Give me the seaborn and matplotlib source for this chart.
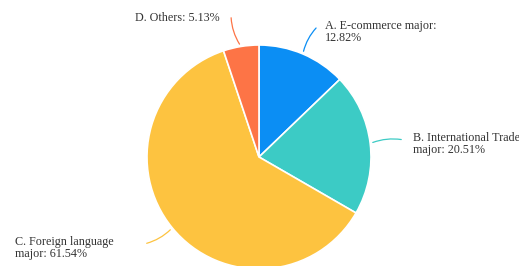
import numpy as np
import matplotlib.pyplot as plt
import seaborn as sns

sns.set_theme(style="white")
plt.rcParams['font.family'] = ['Liberation Serif', 'DejaVu Serif']

# data (labels already carry their line breaks)
categories = ['A. E-commerce major:\n', 'B. International Trade\nmajor: ',
              'C. Foreign language\nmajor: ', 'D. Others: ']
shares = [12.82, 20.51, 61.54, 5.13]
colors = ['#0b8ef4', '#3ccbc5', '#fdc340', '#fd7446']

# label anchor positions (pixel coords, y up), top-left of text
label_xy = [(325, 246), (413, 134), (15, 30), (135, 254)]
# leader line elbow points
elbows = [(318, 240), (404, 126), (144, 22), (231, 251)]

fig = plt.figure(figsize=(5.19, 2.66), dpi=100)
ax = fig.add_axes([0, 0, 1, 1])

cx, cy, r = 259, 109, 112
wedges, _ = ax.pie(shares, colors=colors, startangle=90, counterclock=False,
                   center=(cx, cy), radius=r, frame=True,
                   wedgeprops=dict(edgecolor='white', linewidth=1.2))
ax.set_xlim(0, 519)
ax.set_ylim(0, 266)
ax.set_aspect('equal')
ax.axis('off')

for w, cat, val, (tx, ty), (ex, ey), col in zip(wedges, categories, shares,
                                                 label_xy, elbows, colors):
    mid = np.deg2rad((w.theta1 + w.theta2) / 2)
    px, py = cx + r * np.cos(mid), cy + r * np.sin(mid)
    ax.annotate('', xy=(px, py), xytext=(ex, ey),
                arrowprops=dict(arrowstyle='-', color=col, lw=0.9,
                                connectionstyle='arc3,rad=0.15'))
    ax.text(tx, ty, f'{cat}{val:.2f}%', ha='left', va='top', fontsize=8.7,
            color='#333333', linespacing=1.05)

plt.savefig('out.png', dpi=100)
